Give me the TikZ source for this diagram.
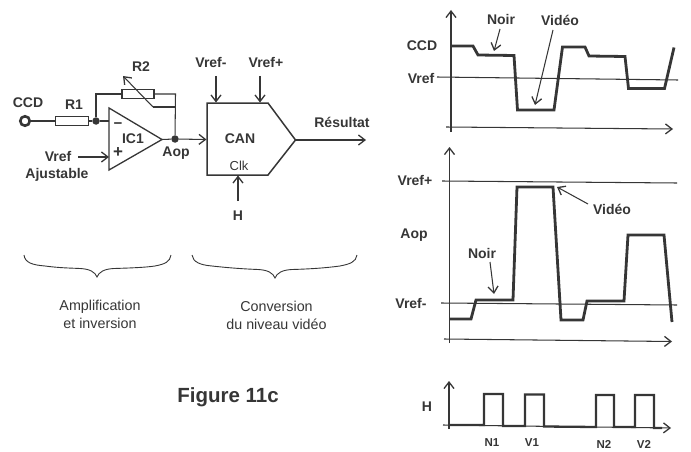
\documentclass[tikz,border=0pt]{standalone}
\usepackage{fontspec}
\setmainfont{Liberation Sans}
\usetikzlibrary{arrows.meta}
\definecolor{ink}{HTML}{363636}
\tikzset{
 wire/.style={draw=ink,line width=1.05pt},
 arw/.style={wire,-{Straight Barb[length=6.5pt,width=10pt,line width=1.3pt]}},
 wave/.style={draw=ink,line width=2.8pt,line join=miter},
 thinwave/.style={draw=ink,line width=2.3pt,line join=miter},
 lab/.style={text=ink,font=\fontsize{14}{16}\selectfont\bfseries,inner sep=0pt},
 lbs/.style={text=ink,font=\fontsize{11.5}{13}\selectfont\bfseries,inner sep=0pt},
 reg/.style={text=ink,font=\fontsize{14.3}{18}\selectfont,inner sep=0pt,align=center},
 res/.style={draw=ink,line width=1.3pt,fill=white,minimum height=9pt,inner sep=0pt},
 dot/.style={circle,fill=ink,minimum size=7.5pt,inner sep=0pt},
 brace/.style={draw=ink,line width=0.9pt},
}
\begin{document}
\begin{tikzpicture}[x=1pt,y=-1pt]
\useasboundingbox (0,0) rectangle (691,452);
% --- circuit: nodes
\node[circle,draw=ink,line width=2.6pt,minimum size=9.5pt,inner sep=0pt] (ccdin) at (25,121) {};
\node[res,minimum width=32.5pt] (r1) at (72,121) {};
\node[res,minimum width=32pt] (r2) at (138,94) {};
\node[dot] (n1) at (96,121) {};
\node[dot] (n2) at (175,139) {};
\coordinate (opa) at (109,108);
\coordinate (opb) at (162,139.5);
\coordinate (opc) at (109,170);
\coordinate (opminus) at (109,121);
\coordinate (opplus) at (109,157);
\coordinate (vr) at (78,157);
\coordinate (n1up) at (96,94);
\coordinate (n2up) at (175.5,94);
\coordinate (n2mid) at (175.5,107);
\coordinate (varb) at (153,107);
\coordinate (vart) at (123,76);
\draw[wire,line width=1.3pt,line join=miter] (opa) -- (opb) -- (opc) -- cycle;
\draw[wire] (ccdin) -- (r1);
\draw[wire] (r1) -- (n1);
\draw[wire] (n1) -- (opminus);
\draw[wire] (n1) -- (n1up) -- (r2);
\draw[wire] (r2) -- (n2up) -- (n2);
\draw[wire] (opb) -- (n2);
\draw[wire] (n2mid) -- (varb);
\draw[arw] (varb) -- (vart);
\draw[arw] (vr) -- (opplus);
\node[lab] (tccd) at (28,103) {CCD};
\node[lab] (tr1) at (74,105) {R1};
\node[lab] (tr2) at (141,67) {R2};
\node[lab] (tic) at (133,139) {IC1};
\node[lab] (taop) at (176,153) {Aop};
\node[lab] (tvref) at (58,156) {Vref};
\node[lab] (taj) at (57,175) {Ajustable};
\node[lab] (tm) at (118,125.5) {\fontsize{15}{15}\selectfont −};
\node[lab] (tp) at (118,153) {\fontsize{17}{17}\selectfont +};
% --- converter
\coordinate (ca) at (207,103);
\coordinate (cb) at (268,103);
\coordinate (cc) at (295.5,140);
\coordinate (cd) at (268,175);
\coordinate (ce) at (207,175);
\draw[wire,line width=1.5pt,line join=miter] (ca) -- (cb) -- (cc) -- (cd) -- (ce) -- cycle;
\node[lab] (tcan) at (240,139) {CAN};
\node[text=ink,font=\fontsize{13}{15}\selectfont,inner sep=0pt] (tclk) at (239,166) {Clk};
\node[lab] (tvm) at (211,62) {Vref-};
\node[lab] (tvp) at (266,62) {Vref+};
\node[lab] (th) at (238,216) {H};
\node[lab] (tres) at (342,122) {Résultat};
\coordinate (vma) at (216,76); \coordinate (vmb) at (216,102.5);
\coordinate (vpa) at (260,76); \coordinate (vpb) at (260,102.5);
\coordinate (ha) at (238,201); \coordinate (hb) at (238,175.5);
\coordinate (can) at (206.5,139.5);
\coordinate (out) at (366,140);
\draw[arw] (vma) -- (vmb);
\draw[arw] (vpa) -- (vpb);
\draw[arw] (ha) -- (hb);
\draw[arw] (n2) -- (can);
\draw[arw] (cc) -- (out);
% --- braces
\draw[brace] (24,255) .. controls (25,263) and (33,265) .. (45,266) .. controls (60,268) and (70,268) .. (80,268.5) .. controls (90,269) and (95,272) .. (97,277) .. controls (99,272) and (104,269) .. (114,268.5) .. controls (130,268) and (145,267.5) .. (155,266) .. controls (165,264) and (170,262) .. (171,255);
\draw[brace] (192,255) .. controls (193,262) and (200,265) .. (212,266) .. controls (230,268) and (245,269) .. (258,269.5) .. controls (268,270) and (273,273) .. (275,278) .. controls (277,273) and (282,270) .. (292,269.5) .. controls (310,269) and (325,268) .. (340,266) .. controls (350,264) and (356,262) .. (357,255);
\node[reg] (tamp) at (100,314) {Amplification\\et inversion};
\node[reg] (tconv) at (276.5,315) {Conversion\\du niveau vidéo};
\node[text=ink,font=\fontsize{20.5}{24}\selectfont\bfseries,inner sep=0pt] (tfig) at (228,397) {Figure 11c};
% --- CCD chronogram
\coordinate (a1o) at (451,132); \coordinate (a1t) at (451,10);
\coordinate (a1l) at (446,127); \coordinate (a1r) at (673,129);
\coordinate (r1l) at (437,77); \coordinate (r1r) at (678,80);
\draw[arw] (a1o) -- (a1t);
\draw[arw] (a1l) -- (a1r);
\draw[wire] (r1l) -- (r1r);
\draw[wave] (452,46) -- (473,46) -- (478,55) -- (514,55.5) -- (517.5,110) -- (554,110) -- (562.5,47) -- (585,47) -- (589,56) -- (625,56.5) -- (628.5,88.5) -- (664.5,88.5) -- (674,47.5);
\node[lab] (t1ccd) at (422,46) {CCD};
\node[lab] (t1vr) at (421,78) {Vref};
\node[lab] (t1n) at (501,19) {Noir};
\node[lab] (t1v) at (560,20) {Vidéo};
\coordinate (n1a) at (500,29); \coordinate (n1b) at (494,51);
\coordinate (v1a) at (553,30); \coordinate (v1b) at (535,105);
\draw[arw] (n1a) -- (n1b);
\draw[arw] (v1a) -- (v1b);
% --- Aop chronogram
\coordinate (a2o) at (449.5,343); \coordinate (a2t) at (449.5,147);
\coordinate (a2l) at (444,339); \coordinate (a2r) at (672,341.5);
\coordinate (r2l) at (442,181); \coordinate (r2r) at (677,183);
\coordinate (r3l) at (441,303); \coordinate (r3r) at (677,305);
\draw[arw] (a2o) -- (a2t);
\draw[arw] (a2l) -- (a2r);
\draw[wire] (r2l) -- (r2r);
\draw[wire] (r3l) -- (r3r);
\draw[wave] (449,319) -- (471,319) -- (476,300) -- (513,300) -- (517,187) -- (553,187) -- (561,320) -- (583,320) -- (587,301) -- (624,301) -- (628,235) -- (664,235) -- (672,322);
\node[lab] (t2vp) at (415,180) {Vref+};
\node[lab] (t2a) at (414,235) {Aop};
\node[lab] (t2vm) at (411,303) {Vref-};
\node[lab] (t2n) at (482,253) {Noir};
\node[lab] (t2v) at (612,209) {Vidéo};
\coordinate (n2a) at (490,262); \coordinate (n2b) at (494,294);
\coordinate (v2a) at (588,204); \coordinate (v2b) at (557,187);
\draw[arw] (n2a) -- (n2b);
\draw[arw] (v2a) -- (v2b);
% --- clock chronogram
\coordinate (a3o) at (449,429); \coordinate (a3t) at (449,381);
\coordinate (a3l) at (443,425); \coordinate (a3r) at (671,428);
\draw[arw] (a3o) -- (a3t);
\draw[arw] (a3l) -- (a3r);
\draw[thinwave] (449,425) -- (484,425) -- (484,394) -- (503,394) -- (503,426) -- (525,426) -- (525,394.5) -- (544,394.5) -- (544,426.5) -- (596,427) -- (596,395) -- (614,395) -- (614,427) -- (635,427) -- (635,395) -- (654,395) -- (654,428) -- (662,428);
\node[lab] (t3h) at (427,407) {H};
\node[lbs] (t3n1) at (492,443) {N1};
\node[lbs] (t3v1) at (532,443) {V1};
\node[lbs] (t3n2) at (604,444) {N2};
\node[lbs] (t3v2) at (644,444) {V2};
\end{tikzpicture}
\end{document}
